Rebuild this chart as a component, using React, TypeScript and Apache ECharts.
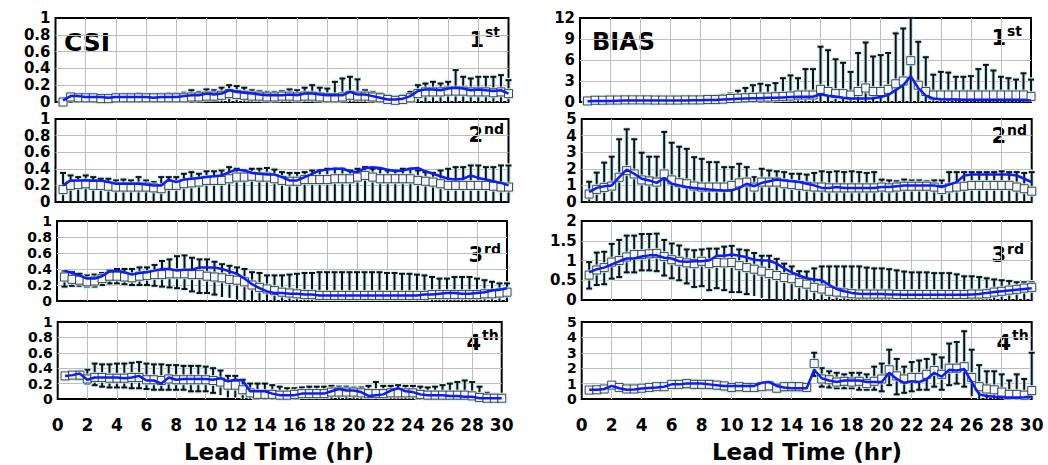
import React, { useEffect, useRef } from "react";
import * as echarts from "echarts";

// ---------- data ----------
const hours = [
  0.5, 1, 1.5, 2, 2.5, 3, 3.5, 4, 4.5, 5, 5.5, 6, 6.5, 7, 7.5, 8, 8.5, 9, 9.5, 10,
  10.5, 11, 11.5, 12, 12.5, 13, 13.5, 14, 14.5, 15, 15.5, 16, 16.5, 17, 17.5, 18, 18.5, 19, 19.5, 20,
  20.5, 21, 21.5, 22, 22.5, 23, 23.5, 24, 24.5, 25, 25.5, 26, 26.5, 27, 27.5, 28, 28.5, 29, 29.5, 30,
];

// CSI, 1st
const csi1Mean = [0.02,0.07,0.07,0.06,0.06,0.06,0.05,0.06,0.06,0.06, 0.06,0.06,0.05,0.06,0.06,0.06,0.07,0.08,0.08,0.10, 0.09,0.10,0.14,0.12,0.11,0.10,0.09,0.08,0.08,0.08, 0.09,0.08,0.10,0.10,0.09,0.08,0.08,0.08,0.12,0.09, 0.09,0.07,0.05,0.03,0.03,0.04,0.07,0.13,0.15,0.15, 0.14,0.16,0.17,0.16,0.14,0.15,0.14,0.13,0.14,0.10];
const csi1Med = [0.00,0.06,0.05,0.05,0.05,0.04,0.04,0.05,0.05,0.05, 0.05,0.05,0.05,0.05,0.05,0.05,0.05,0.06,0.06,0.07, 0.07,0.08,0.10,0.09,0.08,0.07,0.07,0.06,0.06,0.07, 0.07,0.06,0.07,0.07,0.06,0.05,0.05,0.06,0.08,0.07, 0.07,0.06,0.05,0.03,0.02,0.03,0.05,0.10,0.12,0.12, 0.12,0.13,0.13,0.13,0.12,0.12,0.12,0.11,0.12,0.10];
const csi1Hi = [0.02,0.09,0.08,0.08,0.08,0.08,0.08,0.09,0.09,0.09, 0.10,0.09,0.09,0.09,0.10,0.10,0.11,0.14,0.12,0.15, 0.14,0.17,0.20,0.19,0.17,0.14,0.13,0.12,0.12,0.13, 0.15,0.14,0.17,0.20,0.17,0.16,0.24,0.28,0.30,0.27, 0.14,0.12,0.10,0.08,0.06,0.08,0.12,0.20,0.22,0.24, 0.22,0.24,0.38,0.30,0.28,0.30,0.30,0.30,0.32,0.26];
const csi1Lo = [0.00,0.03,0.03,0.03,0.03,0.02,0.02,0.03,0.03,0.03, 0.03,0.03,0.03,0.02,0.02,0.02,0.02,0.01,0.01,0.01, 0.01,0,0,0,0,0,0,0,0,0, 0,0,0,0,0,0,0,0,0,0, 0,0,0,0,0,0,0,0,0,0, 0,0,0,0,0,0,0,0,0,0];

// CSI, 2nd
const csi2Mean = [0.20,0.26,0.26,0.26,0.26,0.26,0.24,0.22,0.22,0.22, 0.22,0.21,0.20,0.20,0.27,0.24,0.27,0.28,0.29,0.30, 0.31,0.32,0.36,0.39,0.38,0.35,0.34,0.33,0.33,0.30, 0.26,0.26,0.30,0.34,0.38,0.39,0.40,0.40,0.37,0.36, 0.41,0.42,0.41,0.39,0.37,0.38,0.40,0.41,0.37,0.34, 0.31,0.28,0.27,0.28,0.32,0.29,0.27,0.25,0.23,0.20];
const csi2Med = [0.15,0.20,0.21,0.22,0.20,0.20,0.19,0.18,0.18,0.18, 0.18,0.18,0.17,0.16,0.20,0.20,0.22,0.23,0.24,0.26, 0.26,0.26,0.28,0.30,0.30,0.31,0.30,0.30,0.28,0.26, 0.25,0.25,0.27,0.27,0.27,0.27,0.28,0.28,0.28,0.30, 0.32,0.30,0.28,0.28,0.28,0.28,0.28,0.26,0.25,0.24, 0.22,0.20,0.20,0.20,0.20,0.20,0.20,0.19,0.18,0.18];
const csi2Hi = [0.35,0.32,0.30,0.32,0.30,0.28,0.28,0.26,0.27,0.26, 0.30,0.26,0.24,0.30,0.30,0.30,0.34,0.36,0.34,0.37, 0.37,0.38,0.42,0.40,0.38,0.40,0.40,0.41,0.39,0.36, 0.35,0.35,0.36,0.38,0.38,0.40,0.40,0.40,0.38,0.40, 0.42,0.40,0.40,0.38,0.38,0.40,0.40,0.38,0.36,0.35, 0.38,0.40,0.42,0.42,0.44,0.44,0.42,0.42,0.44,0.44];
const csi2Lo = [0.01,0.01,0.01,0.01,0.01,0.01,0.01,0.01,0.01,0.01, 0.01,0.01,0.01,0.01,0.01,0.01,0.01,0.01,0.01,0.01, 0.01,0.01,0.01,0.01,0.01,0.01,0.01,0.01,0.01,0.01, 0.01,0.01,0.01,0.01,0.01,0.01,0.01,0.01,0.01,0.01, 0.01,0.01,0.01,0.01,0.01,0.01,0.01,0.01,0.01,0.01, 0.01,0.01,0.01,0.01,0.01,0.01,0.01,0.01,0.01,0.01];

// CSI, 3rd
const csi3Mean = [0.38,0.35,0.32,0.28,0.28,0.31,0.37,0.38,0.36,0.33, 0.35,0.36,0.38,0.40,0.40,0.38,0.39,0.39,0.42,0.42, 0.42,0.40,0.37,0.34,0.28,0.21,0.16,0.12,0.10,0.10, 0.09,0.09,0.08,0.08,0.07,0.07,0.07,0.07,0.07,0.07, 0.07,0.07,0.07,0.07,0.07,0.07,0.07,0.07,0.08,0.08, 0.09,0.10,0.10,0.09,0.09,0.10,0.11,0.13,0.14,0.16];
const csi3Med = [0.30,0.27,0.26,0.24,0.25,0.28,0.31,0.31,0.30,0.29, 0.31,0.32,0.33,0.33,0.34,0.34,0.34,0.33,0.33,0.31, 0.30,0.29,0.27,0.26,0.24,0.20,0.17,0.15,0.13,0.11, 0.10,0.09,0.08,0.08,0.07,0.07,0.07,0.07,0.07,0.07, 0.07,0.07,0.07,0.07,0.07,0.07,0.07,0.07,0.07,0.08, 0.08,0.08,0.08,0.08,0.08,0.08,0.09,0.09,0.10,0.11];
const csi3Hi = [0.37,0.36,0.34,0.32,0.33,0.35,0.38,0.40,0.40,0.40, 0.42,0.42,0.45,0.50,0.52,0.56,0.57,0.54,0.52,0.52, 0.49,0.46,0.44,0.42,0.40,0.36,0.35,0.32,0.32,0.32, 0.33,0.34,0.35,0.35,0.36,0.36,0.36,0.36,0.36,0.36, 0.36,0.36,0.36,0.35,0.35,0.34,0.34,0.33,0.32,0.30, 0.28,0.28,0.30,0.30,0.30,0.28,0.26,0.24,0.22,0.22];
const csi3Lo = [0.18,0.19,0.19,0.18,0.18,0.20,0.22,0.22,0.21,0.20, 0.20,0.20,0.19,0.18,0.17,0.16,0.15,0.12,0.10,0.10, 0.08,0.05,0.04,0.02,0,0,0,0,0,0, 0,0,0,0,0,0,0,0,0,0, 0,0,0,0,0,0,0,0,0,0, 0,0,0,0,0,0,0,0,0,0];

// CSI, 4th
const csi4Mean = [0.30,0.31,0.33,0.25,0.28,0.28,0.28,0.28,0.27,0.28, 0.30,0.24,0.24,0.20,0.28,0.25,0.26,0.26,0.26,0.26, 0.25,0.27,0.23,0.25,0.24,0.10,0.10,0.10,0.07,0.05, 0.05,0.05,0.07,0.07,0.07,0.07,0.10,0.13,0.11,0.11, 0.09,0.04,0.05,0.06,0.11,0.14,0.10,0.09,0.06,0.05, 0.05,0.05,0.04,0.04,0.03,0.03,0.01,0.01,0.01,0.01];
const csi4Med = [0.30,0.31,0.31,0.26,0.28,0.28,0.27,0.27,0.27,0.28, 0.28,0.25,0.25,0.24,0.26,0.25,0.25,0.25,0.25,0.25, 0.24,0.22,0.18,0.18,0.12,0.08,0.06,0.06,0.06,0.05, 0.05,0.06,0.07,0.07,0.07,0.07,0.09,0.09,0.09,0.09, 0.08,0.07,0.07,0.07,0.08,0.08,0.08,0.08,0.06,0.05, 0.05,0.05,0.05,0.05,0.05,0.04,0.02,0.01,0.01,0.01];
const csi4Hi = [0.32,0.34,0.36,0.38,0.46,0.45,0.45,0.46,0.46,0.47, 0.48,0.46,0.45,0.45,0.44,0.44,0.43,0.43,0.43,0.42, 0.40,0.37,0.30,0.30,0.25,0.20,0.20,0.20,0.18,0.16, 0.14,0.14,0.15,0.16,0.16,0.16,0.17,0.16,0.16,0.15, 0.15,0.17,0.22,0.17,0.17,0.18,0.17,0.17,0.16,0.15, 0.16,0.18,0.20,0.22,0.24,0.22,0.16,0.08,0.06,0.05];
const csi4Lo = [0.26,0.27,0.26,0.20,0.18,0.16,0.15,0.15,0.15,0.14, 0.14,0.13,0.12,0.12,0.12,0.12,0.12,0.10,0.10,0.10, 0.08,0.05,0.02,0.02,0,0,0,0,0,0, 0,0,0,0,0,0,0,0,0,0, 0,0,0,0,0,0,0,0,0,0, 0,0,0,0,0,0,0,0,0,0];

// BIAS, 1st
const bias1Mean = [0.10,0.15,0.15,0.15,0.18,0.20,0.20,0.20,0.20,0.20, 0.20,0.20,0.20,0.22,0.25,0.25,0.30,0.30,0.35,0.40, 0.45,0.50,0.55,0.55,0.60,0.60,0.65,0.70,0.75,0.75, 0.75,1.10,0.90,0.80,0.60,0.50,0.50,0.50,0.55,0.70, 1.00,1.70,2.40,3.70,2.00,0.90,0.50,0.40,0.35,0.35, 0.30,0.30,0.30,0.30,0.30,0.30,0.30,0.30,0.25,0.20];
const bias1Med = [0.15,0.25,0.25,0.28,0.28,0.30,0.30,0.30,0.30,0.28, 0.28,0.28,0.28,0.30,0.30,0.30,0.35,0.35,0.40,0.50, 0.55,0.60,0.65,0.70,0.70,0.75,0.80,0.85,1.00,1.00, 1.00,1.80,1.50,1.20,1.20,1.00,1.50,2.00,1.50,1.50, 1.80,2.60,3.00,5.90,2.40,1.50,1.00,1.00,1.00,1.00, 1.00,1.00,1.00,1.00,1.00,1.00,1.00,1.00,1.00,0.80];
const bias1Hi = [0.30,0.35,0.35,0.40,0.40,0.40,0.45,0.45,0.45,0.45, 0.50,0.50,0.50,0.55,0.60,0.65,0.75,0.85,1.00,1.20, 1.60,2.00,2.40,2.60,2.40,2.70,3.40,3.80,3.40,4.70, 4.70,7.90,7.40,6.10,5.60,4.30,7.00,8.50,6.50,6.70, 7.00,9.80,10.50,12.00,8.60,6.40,3.90,4.30,4.20,3.60, 3.60,3.70,4.70,5.30,4.50,3.60,3.40,3.20,4.10,3.20];
const bias1Lo = [0,0,0,0,0,0,0,0,0,0, 0,0,0,0,0,0,0,0,0,0, 0,0,0,0,0,0,0,0,0,0, 0,0,0,0,0,0,0,0,0,0, 0,0,0,0,0,0,0,0,0,0, 0,0,0,0,0,0,0,0,0,0];

// BIAS, 2nd
const bias2Mean = [0.60,0.85,0.95,1.00,1.50,1.95,1.70,1.40,1.30,1.15, 1.45,1.10,1.00,0.90,0.85,0.80,0.75,0.72,0.70,0.70, 0.85,1.10,0.95,1.15,1.25,1.35,1.30,1.25,1.20,1.10, 1.00,0.85,0.85,0.90,0.85,0.85,0.85,0.85,0.85,0.90, 0.90,0.95,1.00,1.00,1.00,1.00,1.00,0.90,1.05,1.20, 1.60,1.65,1.65,1.65,1.65,1.65,1.65,1.60,1.40,1.20];
const bias2Med = [0.48,0.76,0.88,0.96,1.49,1.89,1.69,1.33,1.27,1.20, 1.69,1.33,1.16,1.10,0.96,0.90,0.90,0.90,0.90,1.00, 1.15,1.20,0.90,1.20,1.20,1.20,1.10,1.05,1.00,0.95, 0.90,0.90,0.85,0.85,0.85,0.85,0.85,0.85,0.85,0.90, 0.85,0.90,0.95,0.95,0.95,0.95,0.90,0.75,0.85,0.90, 0.95,1.00,1.00,1.00,1.00,1.00,1.00,0.90,0.80,0.65];
const bias2Hi = [1.22,1.77,2.37,2.73,3.78,4.38,3.78,2.97,2.73,2.73, 4.22,3.57,3.33,3.20,2.70,2.60,2.40,2.40,2.10,2.10, 2.30,2.10,1.50,2.00,1.90,1.85,1.80,1.70,1.70,1.65, 1.75,1.85,1.80,1.85,1.80,1.85,1.80,1.75,1.80,1.35, 1.30,1.25,1.35,1.30,1.30,1.25,1.30,1.30,1.80,1.80, 1.80,1.80,1.80,1.80,1.80,1.85,1.80,1.80,1.75,1.80];
const bias2Lo = [0.04,0.04,0.04,0.04,0.04,0.04,0.04,0.04,0.04,0.04, 0.04,0.04,0.04,0.04,0.04,0.04,0.04,0.04,0.04,0.04, 0.04,0.04,0.04,0.04,0.04,0.04,0.04,0.04,0.04,0.04, 0.04,0.04,0.04,0.04,0.04,0.04,0.04,0.04,0.04,0.04, 0.04,0.04,0.04,0.04,0.04,0.04,0.04,0.04,0.04,0.04, 0.04,0.04,0.04,0.04,0.04,0.04,0.04,0.04,0.04,0.04];

// BIAS, 3rd
const bias3Mean = [0.70,0.78,0.82,0.90,0.98,1.05,1.05,1.10,1.13,1.13, 1.07,1.05,0.98,0.97,0.98,0.98,1.00,1.12,1.12,1.15, 1.12,1.08,1.02,1.00,1.00,0.92,0.80,0.70,0.62,0.55, 0.52,0.50,0.38,0.28,0.22,0.18,0.16,0.15,0.15,0.15, 0.14,0.14,0.13,0.13,0.13,0.13,0.13,0.13,0.13,0.13, 0.13,0.14,0.15,0.18,0.20,0.22,0.24,0.26,0.28,0.30];
const bias3Med = [0.63,0.76,0.82,0.96,1.00,1.09,1.15,1.15,1.17,1.18, 1.10,1.02,0.98,0.94,0.92,0.98,0.92,0.95,0.94,0.95, 0.87,0.82,0.78,0.73,0.67,0.62,0.57,0.54,0.44,0.40, 0.32,0.28,0.22,0.20,0.18,0.16,0.15,0.15,0.15,0.15, 0.15,0.14,0.14,0.14,0.14,0.14,0.14,0.14,0.14,0.14, 0.14,0.15,0.15,0.16,0.20,0.22,0.25,0.27,0.30,0.32];
const bias3Hi = [0.96,1.20,1.22,1.42,1.52,1.63,1.63,1.67,1.67,1.68, 1.52,1.43,1.38,1.28,1.26,1.28,1.30,1.30,1.35,1.37, 1.28,1.26,1.19,1.12,1.12,1.04,0.92,0.85,0.73,0.72, 0.80,0.85,0.85,0.85,0.85,0.85,0.85,0.82,0.80,0.80, 0.78,0.75,0.72,0.70,0.70,0.70,0.68,0.68,0.68,0.65, 0.60,0.60,0.58,0.55,0.52,0.50,0.48,0.45,0.45,0.45];
const bias3Lo = [0.29,0.38,0.40,0.54,0.58,0.70,0.70,0.75,0.75,0.73, 0.62,0.55,0.50,0.42,0.33,0.35,0.25,0.30,0.25,0.20, 0.20,0.15,0.10,0.05,0.03,0.02,0,0,0,0, 0,0,0,0,0,0,0,0,0,0, 0,0,0,0,0,0,0,0,0,0, 0,0,0,0,0,0,0,0,0,0];

// BIAS, 4th
const bias4Mean = [0.60,0.60,0.65,0.85,0.70,0.60,0.62,0.68,0.72,0.75, 0.80,0.95,0.95,1.00,1.00,1.00,0.95,0.90,0.85,0.85, 0.85,0.85,0.85,1.05,1.10,0.85,0.75,0.70,0.70,0.70, 1.90,1.35,1.20,1.10,1.20,1.20,1.20,1.10,1.10,1.10, 1.70,1.30,1.05,1.15,1.10,1.30,1.70,1.45,1.90,1.85, 1.95,1.10,0.30,0.20,0.15,0.12,0.10,0.10,0.12,0.15];
const bias4Med = [0.58,0.60,0.65,0.90,0.75,0.65,0.65,0.70,0.75,0.80, 0.80,0.95,0.95,1.00,0.95,0.95,0.95,0.90,0.85,0.75, 0.80,0.75,0.75,0.80,0.85,0.70,0.80,0.80,0.80,0.75, 2.30,1.30,1.25,1.10,1.15,1.10,1.15,1.00,1.15,1.30, 1.90,1.50,1.30,1.40,1.40,1.60,1.85,1.60,2.00,2.00, 2.10,1.40,0.80,0.65,0.60,0.45,0.30,0.30,0.25,0.55];
const bias4Hi = [0.70,0.70,0.75,1.00,0.85,0.75,0.75,0.80,0.85,0.90, 0.95,1.10,1.15,1.20,1.20,1.15,1.15,1.10,1.00,0.90, 0.95,0.90,0.90,1.00,1.05,0.95,1.00,1.05,1.00,0.95, 3.00,2.00,1.80,1.70,1.60,1.70,1.70,1.60,2.10,2.30, 3.20,2.60,2.10,2.40,2.50,2.60,2.90,2.70,3.60,3.70, 4.40,3.20,2.20,1.80,1.80,1.60,1.20,1.60,1.30,3.00];
const bias4Lo = [0.50,0.50,0.55,0.75,0.60,0.50,0.50,0.55,0.60,0.65, 0.65,0.75,0.75,0.75,0.70,0.70,0.70,0.65,0.60,0.50, 0.55,0.55,0.55,0.60,0.60,0.50,0.55,0.55,0.55,0.55, 1.50,0.80,0.75,0.70,0.70,0.70,0.60,0.60,0.60,0.50, 0.90,0.30,0.40,0.50,0.60,0.60,0.80,0.60,0.90,1.00, 0.80,0.20,0,0,0,0,0,0,0,0];

// ---------- layout ----------
const FONT = "DejaVu Sans";

type Panel = {
  left: number; top: number; width: number; height: number;
  yMax: number; yStep: number; yFont: number;
  mean: number[]; med: number[]; hi: number[]; lo: number[];
  num: string; sup: string; numRight: number; numCY: number; supCY: number;
  showX: boolean;
};

const panels: Panel[] = [
  { left: 55.5, top: 18, width: 453, height: 84, yMax: 1, yStep: 0.2, yFont: 15, mean: csi1Mean, med: csi1Med, hi: csi1Hi, lo: csi1Lo, num: "1", sup: "st", numRight: 484, numCY: 40, supCY: 32, showX: false },
  { left: 55.5, top: 119, width: 453, height: 83, yMax: 1, yStep: 0.2, yFont: 15, mean: csi2Mean, med: csi2Med, hi: csi2Hi, lo: csi2Lo, num: "2", sup: "nd", numRight: 483, numCY: 135, supCY: 129, showX: false },
  { left: 57, top: 221, width: 450, height: 80, yMax: 1, yStep: 0.2, yFont: 14, mean: csi3Mean, med: csi3Med, hi: csi3Hi, lo: csi3Lo, num: "3", sup: "rd", numRight: 483, numCY: 255, supCY: 249, showX: false },
  { left: 57.7, top: 322, width: 444, height: 77, yMax: 1, yStep: 0.2, yFont: 14, mean: csi4Mean, med: csi4Med, hi: csi4Hi, lo: csi4Lo, num: "4", sup: "th", numRight: 481, numCY: 343, supCY: 335, showX: true },
  { left: 580, top: 18, width: 451, height: 84, yMax: 12, yStep: 3, yFont: 15, mean: bias1Mean, med: bias1Med, hi: bias1Hi, lo: bias1Lo, num: "1", sup: "st", numRight: 1006, numCY: 38, supCY: 31, showX: false },
  { left: 581.7, top: 119, width: 450, height: 83, yMax: 5, yStep: 1, yFont: 15, mean: bias2Mean, med: bias2Med, hi: bias2Hi, lo: bias2Lo, num: "2", sup: "nd", numRight: 1006, numCY: 136, supCY: 130, showX: false },
  { left: 581.7, top: 221, width: 450, height: 79, yMax: 2, yStep: 0.5, yFont: 15, mean: bias3Mean, med: bias3Med, hi: bias3Hi, lo: bias3Lo, num: "3", sup: "rd", numRight: 1006, numCY: 255, supCY: 249, showX: false },
  { left: 581.7, top: 322, width: 450, height: 77, yMax: 5, yStep: 1, yFont: 14, mean: bias4Mean, med: bias4Med, hi: bias4Hi, lo: bias4Lo, num: "4", sup: "th", numRight: 1011, numCY: 343, supCY: 335, showX: true },
];

const renderBar = (params: any, api: any) => {
  const x = api.value(0);
  const a = api.coord([x, api.value(1)]);
  const b = api.coord([x, api.value(2)]);
  const cs = params.coordSys;
  const bottom = cs.y + cs.height;
  const c = 3;
  const halo = { stroke: "#cdeff8", lineWidth: 4.5 };
  const ink = { stroke: "#111111", lineWidth: 2 };
  const seg = (x1: number, y1: number, x2: number, y2: number, style: any) => ({
    type: "line",
    shape: { x1, y1, x2, y2 },
    style,
  });
  const showLowCap = a[1] < bottom - 4;
  const children: any[] = [
    seg(b[0], a[1], b[0], b[1], halo),
    seg(b[0] - c, b[1], b[0] + c, b[1], halo),
  ];
  if (showLowCap) children.push(seg(a[0] - c, a[1], a[0] + c, a[1], halo));
  children.push(seg(b[0], a[1], b[0], b[1], ink));
  children.push(seg(b[0] - c, b[1], b[0] + c, b[1], ink));
  if (showLowCap) children.push(seg(a[0] - c, a[1], a[0] + c, a[1], ink));
  return { type: "group", children };
};

function buildOption() {
  const xLabel = { fontFamily: FONT, fontWeight: "bold" as const, fontSize: 17, color: "#000" };
  const grid = panels.map((p) => ({
    left: p.left, top: p.top, width: p.width, height: p.height,
    show: true, borderColor: "#000", borderWidth: 2, backgroundColor: "transparent",
  }));
  const xAxis = panels.map((p, i) => ({
    type: "value", gridIndex: i, min: 0, max: 30, interval: 2,
    axisLine: { show: false }, axisTick: { show: false },
    axisLabel: { show: p.showX, ...xLabel, margin: 17 },
    splitLine: { show: true, showMinLine: false, showMaxLine: false, lineStyle: { color: "#bdbdbd", width: 1 } },
  }));
  const yAxis = panels.map((p, i) => ({
    type: "value", gridIndex: i, min: 0, max: p.yMax, interval: p.yStep,
    axisLine: { show: false }, axisTick: { show: false },
    axisLabel: { fontFamily: FONT, fontWeight: "bold", fontSize: p.yFont, color: "#000", margin: 5 },
    splitLine: { show: true, showMinLine: false, showMaxLine: false, lineStyle: { color: "#bdbdbd", width: 1 } },
  }));
  const series: any[] = [];
  panels.forEach((p, i) => {
    series.push({
      type: "custom", xAxisIndex: i, yAxisIndex: i, z: 2,
      renderItem: renderBar,
      encode: { x: 0, y: [1, 2] },
      data: hours.map((h, k) => [h, p.lo[k], p.hi[k]]),
    });
    series.push({
      type: "scatter", xAxisIndex: i, yAxisIndex: i, z: 3,
      symbol: "rect", symbolSize: 11,
      itemStyle: { color: "#cdeff8" },
      data: hours.map((h, k) => [h, p.med[k]]),
    });
    series.push({
      type: "scatter", xAxisIndex: i, yAxisIndex: i, z: 4,
      symbol: "rect", symbolSize: 8,
      itemStyle: { color: "#ffffff", borderColor: "#222", borderWidth: 1 },
      data: hours.map((h, k) => [h, p.med[k]]),
    });
    series.push({
      type: "line", xAxisIndex: i, yAxisIndex: i, z: 5,
      showSymbol: false, symbol: "none",
      lineStyle: { color: "#0d1bff", width: 2.5 },
      data: hours.map((h, k) => [h, p.mean[k]]),
    });
  });

  const graphic: any[] = [
    { type: "text", left: 64, top: 30, style: { text: "CSI", fontFamily: FONT, fontWeight: "bold", fontSize: 25, fill: "#000" } },
    { type: "text", left: 592, top: 30, style: { text: "BIAS", fontFamily: FONT, fontWeight: "bold", fontSize: 24, fill: "#000" } },
    { type: "text", x: 279, y: 452, style: { text: "Lead Time (hr)", fontFamily: FONT, fontWeight: "bold", fontSize: 23, fill: "#000", align: "center", verticalAlign: "middle" } },
    { type: "text", x: 807, y: 452, style: { text: "Lead Time (hr)", fontFamily: FONT, fontWeight: "bold", fontSize: 23, fill: "#000", align: "center", verticalAlign: "middle" } },
  ];
  panels.forEach((p) => {
    graphic.push({ type: "text", x: p.numRight, y: p.numCY, style: { text: p.num, fontFamily: FONT, fontWeight: "bold", fontSize: 21, fill: "#000", align: "right", verticalAlign: "middle" } });
    graphic.push({ type: "text", x: p.numRight + 1, y: p.supCY, style: { text: p.sup, fontFamily: FONT, fontWeight: "bold", fontSize: 14, fill: "#000", align: "left", verticalAlign: "middle" } });
  });

  return { animation: false, backgroundColor: "#fff", grid, xAxis, yAxis, series, graphic };
}

export default function App() {
  const ref = useRef<HTMLDivElement>(null);
  useEffect(() => {
    if (!ref.current) return;
    const chart = echarts.init(ref.current, undefined, { renderer: "svg" });
    chart.setOption(buildOption() as any);
    return () => chart.dispose();
  }, []);
  return <div ref={ref} style={{ position: "absolute", left: 0, top: 0, width: 1048, height: 465 }} />;
}
